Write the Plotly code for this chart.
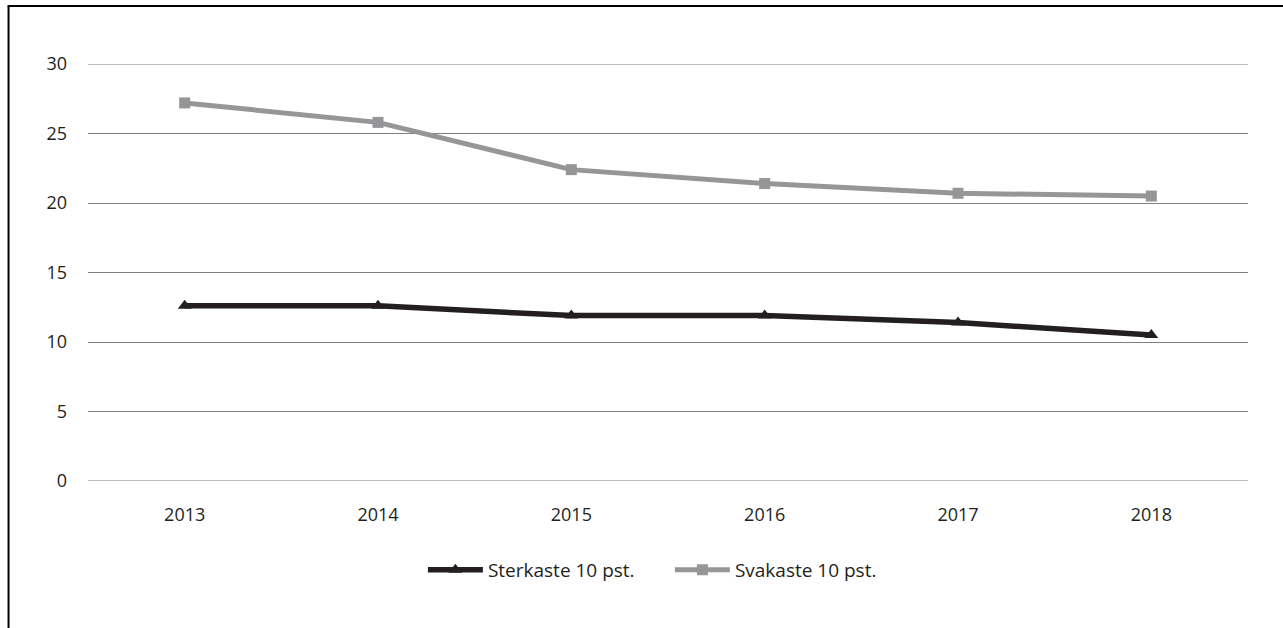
import plotly.graph_objects as go

years = ["2013", "2014", "2015", "2016", "2017", "2018"]
sterkaste = [12.6, 12.6, 11.9, 11.9, 11.4, 10.5]
svakaste = [27.2, 25.8, 22.4, 21.4, 20.7, 20.5]
y_ticks = [0, 5, 10, 15, 20, 25, 30]

FONT = "Open Sans"
TXT = "#231f20"
GRID = "#7f7f7f"

fig = go.Figure()
fig.add_trace(go.Scatter(
    x=years, y=sterkaste, name="Sterkaste 10 pst.", mode="lines+markers",
    line=dict(color="#231f20", width=5.5),
    marker=dict(symbol="triangle-up", size=12, color="#231f20"),
))
fig.add_trace(go.Scatter(
    x=years, y=svakaste, name="Svakaste 10 pst.", mode="lines+markers",
    line=dict(color="#969699", width=5),
    marker=dict(symbol="square", size=11, color="#969699"),
))

# gridlines at the range edges (plotly hides those)
edge_lines = [dict(type="line", xref="paper", yref="y", x0=0, x1=1, y0=v, y1=v,
                   line=dict(color=GRID, width=1), layer="below")
              for v in (y_ticks[0], y_ticks[-1])]

fig.update_layout(
    width=1283, height=628,
    margin=dict(l=88, r=35, t=64, b=147),
    paper_bgcolor="white", plot_bgcolor="white",
    font=dict(family=FONT, size=18, color=TXT),
    showlegend=True,
    legend=dict(orientation="h", x=0.2887, xanchor="left", y=-0.213, yanchor="middle",
                font=dict(family=FONT, size=19, color=TXT),
                itemwidth=55, entrywidth=177, entrywidthmode="pixels",
                tracegroupgap=0),
    xaxis=dict(type="category", range=[-0.5, 5.5], showgrid=False, zeroline=False,
               showline=False, ticks="", ticklabelstandoff=21),
    yaxis=dict(range=[0, 30], tickvals=y_ticks, showgrid=True, gridcolor=GRID,
               gridwidth=1, zeroline=False, showline=False, ticks="",
               ticklabelstandoff=20),
    shapes=edge_lines + [
        dict(type="line", xref="paper", yref="paper", x0=-0.0685, x1=-0.0685, y0=-0.5, y1=1.139,
             line=dict(color="black", width=2)),
        dict(type="line", xref="paper", yref="paper", x0=-0.0693, x1=1.1, y0=1.139, y1=1.139,
             line=dict(color="black", width=2)),
    ],
)

fig.write_html("out.html", post_script="document.body.style.margin='0';",
               config={"displayModeBar": False})
